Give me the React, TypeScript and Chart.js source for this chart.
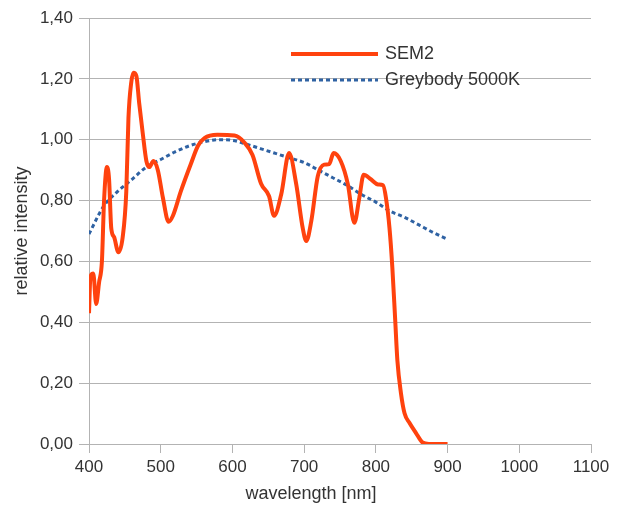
import React, { useEffect, useRef } from 'react';
import { Chart, registerables } from 'chart.js';

Chart.register(...registerables);

const semWavelength = [
  400, 402, 406, 410, 414, 418, 421, 425, 428, 431, 435, 441, 447, 452, 455, 459, 462, 466, 470, 475,
  480, 484, 490, 496, 503, 511, 517, 528, 542, 552, 561, 579, 603, 617, 628, 640, 651, 658, 668, 679,
  689, 698, 703, 710, 719, 728, 735, 741, 751, 761, 770, 777, 783, 793, 803, 810, 814, 819, 823, 827,
  830, 835, 840, 847, 856, 865, 874, 900,
];
const semIntensity = [
  0.43, 0.55, 0.56, 0.46, 0.53, 0.6, 0.8, 0.91, 0.87, 0.71, 0.68, 0.63, 0.68, 0.83, 1.07, 1.19, 1.22, 1.21, 1.12, 1.02,
  0.93, 0.91, 0.93, 0.9, 0.81, 0.73, 0.75, 0.83, 0.92, 0.98, 1.005, 1.016, 1.014, 0.99, 0.95, 0.855, 0.815, 0.75, 0.82, 0.956,
  0.853, 0.71, 0.667, 0.733, 0.88, 0.918, 0.92, 0.956, 0.93, 0.853, 0.727, 0.81, 0.885, 0.87, 0.853, 0.85, 0.81, 0.71, 0.58, 0.406,
  0.275, 0.167, 0.101, 0.069, 0.036, 0.005, 0, 0,
];

const greyWavelength = [
  400, 420, 440, 460, 480, 500, 520, 540, 560, 580, 600, 620, 640, 660, 680, 700, 720, 740, 760, 780,
  800, 820, 840, 860, 880, 900,
];
const greyIntensity = [
  0.69, 0.78, 0.83, 0.87, 0.91, 0.935, 0.96, 0.98, 0.993, 1.0, 0.998, 0.985, 0.97, 0.955, 0.94, 0.925, 0.9, 0.875, 0.85, 0.82,
  0.795, 0.765, 0.745, 0.72, 0.695, 0.673,
];

const xTickValues = [400, 500, 600, 700, 800, 900, 1000, 1100];
const yTickValues = [0, 0.2, 0.4, 0.6, 0.8, 1.0, 1.2, 1.4];
const seriesNames = ['SEM2', 'Greybody 5000K'];
const xTitle = 'wavelength [nm]';
const yTitle = 'relative intensity';

const FONT = "'Liberation Sans', Arial, sans-serif";
const TEXT = '#333333';
const GRID = '#b3b3b3';
const SEM_COLOR = '#ff420e';
const GREY_COLOR = '#2f62a3';

const overlayPlugin = {
  id: 'overlay',
  afterDraw(chart: any) {
    const ctx = chart.ctx as CanvasRenderingContext2D;
    ctx.save();
    ctx.fillStyle = TEXT;
    // legend
    ctx.lineCap = 'butt';
    ctx.strokeStyle = SEM_COLOR;
    ctx.lineWidth = 4;
    ctx.setLineDash([]);
    ctx.beginPath();
    ctx.moveTo(291, 54);
    ctx.lineTo(378, 54);
    ctx.stroke();
    ctx.strokeStyle = GREY_COLOR;
    ctx.lineWidth = 3;
    ctx.setLineDash([4, 3]);
    ctx.beginPath();
    ctx.moveTo(291, 80);
    ctx.lineTo(378, 80);
    ctx.stroke();
    ctx.setLineDash([]);
    ctx.font = `18px ${FONT}`;
    ctx.textAlign = 'left';
    ctx.textBaseline = 'middle';
    ctx.fillText(seriesNames[0], 385, 54);
    ctx.fillText(seriesNames[1], 385, 80);
    // axis titles
    ctx.textAlign = 'center';
    ctx.fillText(xTitle, 311, 494);
    ctx.translate(22, 231);
    ctx.rotate(-Math.PI / 2);
    ctx.fillText(yTitle, 0, 0);
    ctx.restore();
  },
};

export default function App() {
  const ref = useRef<HTMLCanvasElement>(null);
  useEffect(() => {
    document.body.style.margin = '0';
    const canvas = ref.current!;
    const chart = new Chart(canvas, {
      type: 'line',
      data: {
        datasets: [
          {
            label: seriesNames[0],
            data: semWavelength.map((x, i) => ({ x, y: semIntensity[i] })),
            borderColor: SEM_COLOR,
            backgroundColor: SEM_COLOR,
            borderWidth: 4,
            pointRadius: 0,
            cubicInterpolationMode: 'monotone',
            fill: false,
          },
          {
            label: seriesNames[1],
            data: greyWavelength.map((x, i) => ({ x, y: greyIntensity[i] })),
            borderColor: GREY_COLOR,
            backgroundColor: GREY_COLOR,
            borderWidth: 3,
            borderDash: [4, 3],
            pointRadius: 0,
            cubicInterpolationMode: 'monotone',
            fill: false,
          },
        ],
      },
      options: {
        animation: false,
        responsive: false,
        layout: { padding: { top: 18, right: 34, left: 0, bottom: 0 } },
        plugins: { legend: { display: false }, tooltip: { enabled: false } },
        scales: {
          x: {
            type: 'linear',
            min: 400,
            max: 1100,
            afterBuildTicks: (s: any) => {
              s.ticks = xTickValues.map((v) => ({ value: v }));
            },
            afterFit: (s: any) => {
              s.height = 63;
            },
            grid: { drawOnChartArea: false, drawTicks: true, tickLength: 9, color: GRID, lineWidth: 1 },
            border: { display: true, color: GRID, width: 1 },
            ticks: {
              color: TEXT,
              font: { family: FONT, size: 17 },
              padding: 4,
              maxRotation: 0,
              autoSkip: false,
              callback: (v: any) => String(v),
            },
          },
          y: {
            type: 'linear',
            min: 0,
            max: 1.4,
            afterBuildTicks: (s: any) => {
              s.ticks = yTickValues.map((v) => ({ value: v }));
            },
            afterFit: (s: any) => {
              s.width = 89;
            },
            grid: { drawOnChartArea: true, drawTicks: true, tickLength: 10, color: GRID, lineWidth: 1 },
            border: { display: true, color: GRID, width: 1 },
            ticks: {
              color: TEXT,
              font: { family: FONT, size: 17 },
              padding: 6,
              autoSkip: false,
              callback: (v: any) => Number(v).toFixed(2).replace('.', ','),
            },
          },
        },
      },
      plugins: [overlayPlugin],
    } as any);
    return () => chart.destroy();
  }, []);
  return <canvas ref={ref} width={625} height={507} style={{ display: 'block' }} />;
}
